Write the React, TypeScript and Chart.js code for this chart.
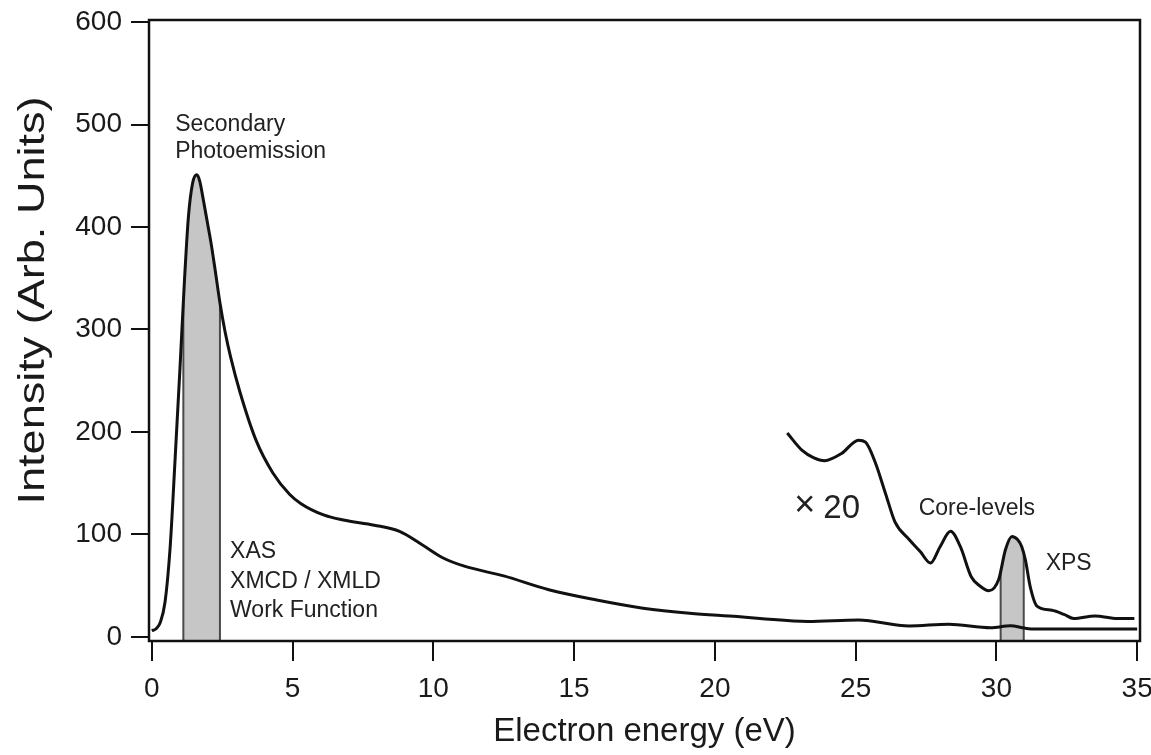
import React, { useEffect, useRef } from "react";
import { Chart, registerables } from "chart.js";

Chart.register(...registerables);

// Main spectrum (electron energy in eV, intensity in arb. units)
const energy = [
  0.0, 0.15, 0.3, 0.47, 0.65, 0.83, 1.0, 1.16, 1.3, 1.45, 1.6, 1.7, 1.82, 1.95,
  2.1, 2.25, 2.42, 2.6, 2.8, 3.13, 3.7, 4.3, 4.9, 5.3, 6.1, 6.8, 7.9, 8.8, 9.6,
  10.35, 11.1, 12.5, 14.1, 15.8, 17.45, 19.1, 20.8, 21.6, 23.3, 25.1, 26.9,
  28.3, 29.8, 30.5, 31.0, 31.4, 33.0, 35.0,
];
const intensity = [
  6, 8, 14, 34, 87, 175, 262, 348, 410, 443, 451, 445, 428, 408,
  385, 358, 326, 298, 273, 239, 192, 160, 139, 130, 119, 114, 109, 103, 90,
  77, 69, 59.5, 46, 36, 28, 23, 19.8, 18, 15, 16.6, 10.7,
  12.4, 9, 11, 8.6, 7.6, 7.6, 7.6,
];

// Magnified (x20) core-level region
const x20Energy = [
  22.57, 23.1, 23.5, 23.9, 24.5, 25.1, 25.35, 25.7, 26.06, 26.4, 26.9, 27.3,
  27.66, 28.0, 28.37, 28.72, 29.1, 29.4, 29.73, 30.08, 30.32, 30.55, 30.75,
  30.9, 31.03, 31.2, 31.44, 31.97, 32.4, 32.74, 33.5, 34.3, 34.9,
];
const x20Intensity = [
  199, 182, 175, 172, 179, 192, 190, 170, 140, 112, 95, 83,
  72, 88, 103, 88, 59, 50, 45, 56, 85, 98, 95,
  88, 75, 49, 30, 26, 22, 18, 20.5, 18, 18,
];

const xTicks = [0, 5, 10, 15, 20, 25, 30, 35];
const yTicks = [0, 100, 200, 300, 400, 500, 600];
const xRange = [-0.1, 35.1];
const yRange = [-4, 602];

// Shaded energy windows
const xasBand = [1.12, 2.42];
const xpsBand = [30.15, 30.97];

const xTitle = "Electron energy (eV)";
const yTitle = "Intensity (Arb. Units)";

const annotationTexts = [
  "Secondary",
  "Photoemission",
  "XAS",
  "XMCD / XMLD",
  "Work Function",
  "\u00D7",
  "20",
  "Core-levels",
  "XPS",
];
const annotationX = [0.83, 0.83, 2.78, 2.78, 2.78, 22.82, 23.85, 27.24, 31.75];
const annotationY = [494, 467.5, 77, 47.8, 19.5, 117.5, 116, 119, 65.4];
const annotationSize = [23, 23, 23, 23, 23, 36, 33, 23, 23];

const FONT = "'Liberation Sans', Arial, Helvetica, sans-serif";

function toPoints(xs: number[], ys: number[]) {
  return xs.map((x, i) => ({ x, y: ys[i] }));
}

function bandPoints(xs: number[], ys: number[], lo: number, hi: number) {
  const interp = (v: number) => {
    for (let i = 0; i < xs.length - 1; i++) {
      if (v >= xs[i] && v <= xs[i + 1]) {
        const t = (v - xs[i]) / (xs[i + 1] - xs[i]);
        return ys[i] + t * (ys[i + 1] - ys[i]);
      }
    }
    return ys[ys.length - 1];
  };
  const pts = [{ x: lo, y: interp(lo) }];
  xs.forEach((x, i) => {
    if (x > lo && x < hi) pts.push({ x, y: ys[i] });
  });
  pts.push({ x: hi, y: interp(hi) });
  return pts;
}

const decorPlugin = {
  id: "decor",
  afterDatasetDraw(chart: any, args: any) {
    const ds = chart.data.datasets[args.index];
    if (!ds.isBand) return;
    const pts = args.meta.data;
    if (!pts.length) return;
    const ctx = chart.ctx;
    const bottom = chart.chartArea.bottom;
    ctx.save();
    ctx.strokeStyle = "#4a4a4a";
    ctx.lineWidth = 2;
    [pts[0], pts[pts.length - 1]].forEach((p: any) => {
      ctx.beginPath();
      ctx.moveTo(p.x, bottom);
      ctx.lineTo(p.x, p.y);
      ctx.stroke();
    });
    ctx.restore();
  },
  afterDraw(chart: any) {
    const ctx = chart.ctx;
    const { left, right, top, bottom } = chart.chartArea;
    const xs = chart.scales.x;
    const ys = chart.scales.y;
    ctx.save();
    // frame
    ctx.strokeStyle = "#111";
    ctx.lineWidth = 2.5;
    ctx.strokeRect(left, top, right - left, bottom - top);

    // annotations
    ctx.fillStyle = "#222";
    ctx.textAlign = "left";
    ctx.textBaseline = "alphabetic";
    annotationTexts.forEach((t, i) => {
      ctx.font = `${annotationSize[i]}px ${FONT}`;
      ctx.fillText(t, xs.getPixelForValue(annotationX[i]), ys.getPixelForValue(annotationY[i]));
    });

    // x title
    ctx.fillStyle = "#1a1a1a";
    ctx.font = `33px ${FONT}`;
    ctx.textAlign = "center";
    ctx.fillText(xTitle, (left + right) / 2, bottom + 100);

    // y title (rotated, stretched along its length)
    ctx.font = `36px ${FONT}`;
    const w = ctx.measureText(yTitle).width;
    ctx.translate(44, (top + bottom) / 2 - 30);
    ctx.rotate(-Math.PI / 2);
    ctx.scale(408 / w, 1);
    ctx.fillText(yTitle, 0, 0);
    ctx.restore();
  },
};

export default function App() {
  const canvasRef = useRef<HTMLCanvasElement | null>(null);

  useEffect(() => {
    document.body.style.margin = "0";
    const canvas = canvasRef.current;
    if (!canvas) return;
    const chart = new Chart(canvas, {
      type: "line",
      data: {
        datasets: [
          {
            label: "main",
            data: toPoints(energy, intensity),
            borderColor: "#111",
            borderWidth: 3,
            pointRadius: 0,
            fill: false,
            cubicInterpolationMode: "monotone",
            order: 1,
          },
          {
            label: "x20",
            data: toPoints(x20Energy, x20Intensity),
            borderColor: "#111",
            borderWidth: 3,
            pointRadius: 0,
            fill: false,
            cubicInterpolationMode: "monotone",
            order: 1,
          },
          {
            label: "xas",
            isBand: true,
            data: bandPoints(energy, intensity, xasBand[0], xasBand[1]),
            borderWidth: 0,
            borderColor: "rgba(0,0,0,0)",
            backgroundColor: "#c6c6c6",
            pointRadius: 0,
            fill: "start",
            cubicInterpolationMode: "monotone",
            order: 2,
          },
          {
            label: "xps",
            isBand: true,
            data: bandPoints(x20Energy, x20Intensity, xpsBand[0], xpsBand[1]),
            borderWidth: 0,
            borderColor: "rgba(0,0,0,0)",
            backgroundColor: "#c6c6c6",
            pointRadius: 0,
            fill: "start",
            cubicInterpolationMode: "monotone",
            order: 2,
          },
        ] as any,
      },
      options: {
        animation: false,
        responsive: false,
        layout: { padding: { top: 20, right: 11, left: 0, bottom: 0 } },
        plugins: {
          legend: { display: false },
          tooltip: { enabled: false },
        },
        scales: {
          x: {
            type: "linear",
            min: xRange[0],
            max: xRange[1],
            afterBuildTicks: (s: any) => {
              s.ticks = xTicks.map((v) => ({ value: v }));
            },
            afterFit: (s: any) => {
              s.height = 114;
              s.paddingLeft = 0;
              s.paddingRight = 0;
            },
            grid: {
              drawOnChartArea: false,
              drawTicks: true,
              tickLength: 20,
              color: "#111",
              lineWidth: 2,
            },
            border: { display: false },
            ticks: {
              autoSkip: false,
              maxRotation: 0,
              padding: 11,
              color: "#1a1a1a",
              font: { family: FONT, size: 28 },
            },
          },
          y: {
            type: "linear",
            min: yRange[0],
            max: yRange[1],
            afterBuildTicks: (s: any) => {
              s.ticks = yTicks.map((v) => ({ value: v }));
            },
            afterFit: (s: any) => {
              s.width = 149;
              s.paddingTop = 0;
              s.paddingBottom = 0;
            },
            grid: {
              drawOnChartArea: false,
              drawTicks: true,
              tickLength: 18,
              color: "#111",
              lineWidth: 2,
            },
            border: { display: false },
            ticks: {
              autoSkip: false,
              padding: 9,
              color: "#1a1a1a",
              font: { family: FONT, size: 28 },
            },
          },
        },
      } as any,
      plugins: [decorPlugin],
    });
    return () => chart.destroy();
  }, []);

  return (
    <div style={{ position: "fixed", left: 0, top: 0, width: 1151, height: 755, background: "#fff" }}>
      <canvas ref={canvasRef} width={1151} height={755} style={{ display: "block" }} />
    </div>
  );
}
